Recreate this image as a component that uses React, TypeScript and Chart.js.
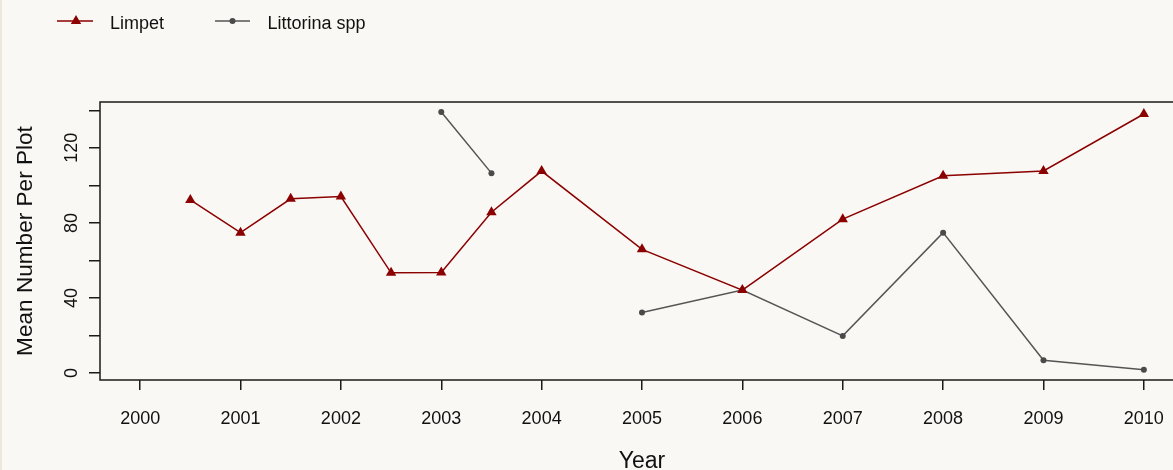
import React, { useEffect, useRef } from 'react';
import { Chart, registerables } from 'chart.js';

Chart.register(...registerables);

const limpetYears = [2000.5, 2001, 2001.5, 2002, 2002.5, 2003, 2003.5, 2004, 2005, 2006, 2007, 2008, 2009, 2010];
const limpetValues = [92.2, 74.8, 92.8, 94.0, 53.4, 53.6, 85.7, 107.6, 65.9, 44.2, 82.0, 105.1, 107.7, 138.0];
const littorinaYears = [2003, 2003.5, 2004, 2005, 2006, 2007, 2008, 2009, 2010];
const littorinaValues: (number | null)[] = [139.1, 106.5, null, 32.3, 44.2, 19.8, 74.8, 6.8, 1.8];
const xTickYears = [2000, 2001, 2002, 2003, 2004, 2005, 2006, 2007, 2008, 2009, 2010];
const yTickValues = [0, 20, 40, 60, 80, 100, 120, 140];
const yLabelValues = [0, 40, 80, 120];
const seriesNames = ['Limpet', 'Littorina spp'];
const xTitle = 'Year';
const yTitle = 'Mean Number Per Plot';

const RED = '#8b0000';
const GRAY = '#555555';
const GRAY_PT = '#4a4a4a';
const INK = '#111111';
const BG = '#f9f8f4';
const FONT = '"Liberation Sans", Arial, sans-serif';

export default function App() {
  const ref = useRef<HTMLCanvasElement | null>(null);

  useEffect(() => {
    document.body.style.margin = '0';
    document.body.style.overflow = 'hidden';
    const canvas = ref.current;
    if (!canvas) return;

    const decor = {
      id: 'decor',
      beforeDraw(chart: any) {
        const ctx = chart.ctx;
        ctx.save();
        ctx.fillStyle = BG;
        ctx.fillRect(0, 0, chart.width, chart.height);
        ctx.fillStyle = '#ece8dc';
        ctx.fillRect(0, 0, 2, chart.height);
        ctx.restore();
      },
      afterDraw(chart: any) {
        const ctx = chart.ctx;
        const a = chart.chartArea;
        const ys = chart.scales.y;
        ctx.save();
        // box
        ctx.strokeStyle = '#1a1a1a';
        ctx.lineWidth = 1.5;
        ctx.strokeRect(a.left, a.top, a.right - a.left, a.bottom - a.top);

        // y tick labels (rotated)
        ctx.fillStyle = INK;
        ctx.font = `18px ${FONT}`;
        ctx.textAlign = 'center';
        ctx.textBaseline = 'alphabetic';
        for (const v of yLabelValues) {
          const y = ys.getPixelForValue(v);
          ctx.save();
          ctx.translate(77, y);
          ctx.rotate(-Math.PI / 2);
          ctx.fillText(String(v), 0, 0);
          ctx.restore();
        }
        // y title
        ctx.font = `22.6px ${FONT}`;
        ctx.save();
        ctx.translate(31.5, (a.top + a.bottom) / 2);
        ctx.rotate(-Math.PI / 2);
        ctx.fillText(yTitle, 0, 0);
        ctx.restore();
        // x title
        ctx.font = `23px ${FONT}`;
        ctx.fillText(xTitle, (a.left + a.right) / 2, 468);

        // legend
        const ly = 21;
        ctx.lineWidth = 1.5;
        ctx.strokeStyle = RED;
        ctx.beginPath();
        ctx.moveTo(57, ly);
        ctx.lineTo(93, ly);
        ctx.stroke();
        ctx.fillStyle = RED;
        const r = 6;
        ctx.beginPath();
        ctx.moveTo(76, ly - r);
        ctx.lineTo(76 + r * Math.sin(Math.PI / 3), ly + r / 2);
        ctx.lineTo(76 - r * Math.sin(Math.PI / 3), ly + r / 2);
        ctx.closePath();
        ctx.fill();

        ctx.strokeStyle = GRAY;
        ctx.beginPath();
        ctx.moveTo(215, ly);
        ctx.lineTo(250, ly);
        ctx.stroke();
        ctx.fillStyle = GRAY_PT;
        ctx.beginPath();
        ctx.arc(232.5, ly, 3, 0, Math.PI * 2);
        ctx.fill();

        ctx.fillStyle = INK;
        ctx.font = `18px ${FONT}`;
        ctx.textAlign = 'left';
        ctx.fillText(seriesNames[0], 110, 28.5);
        ctx.fillText(seriesNames[1], 267.5, 28.5);
        ctx.restore();
      },
    };

    const chart = new Chart(canvas, {
      type: 'line',
      data: {
        datasets: [
          {
            label: seriesNames[0],
            data: limpetYears.map((x, i) => ({ x, y: limpetValues[i] })),
            borderColor: RED,
            backgroundColor: RED,
            borderWidth: 1.5,
            pointStyle: 'triangle',
            pointRadius: 6,
            pointBorderWidth: 0,
            pointBackgroundColor: RED,
            tension: 0,
          },
          {
            label: seriesNames[1],
            data: littorinaYears.map((x, i) => ({ x, y: littorinaValues[i] })),
            borderColor: GRAY,
            backgroundColor: GRAY_PT,
            borderWidth: 1.5,
            pointStyle: 'circle',
            pointRadius: 3,
            pointBorderWidth: 0,
            pointBackgroundColor: GRAY_PT,
            spanGaps: false,
            tension: 0,
          },
        ],
      },
      options: {
        animation: false,
        responsive: false,
        devicePixelRatio: 1,
        layout: { padding: { top: 102, right: 16, left: 0, bottom: 0 } },
        plugins: { legend: { display: false }, tooltip: { enabled: false }, title: { display: false } },
        scales: {
          x: {
            type: 'linear',
            min: 1999.6,
            max: 2010.4,
            afterBuildTicks: (s: any) => {
              s.ticks = xTickYears.map((v) => ({ value: v }));
            },
            afterFit: (s: any) => {
              s.height = 90;
            },
            grid: { drawOnChartArea: false, drawTicks: true, tickLength: 10, color: '#1a1a1a', lineWidth: 1.5 },
            border: { display: false },
            ticks: {
              padding: 18,
              color: INK,
              font: { family: FONT, size: 18 },
              maxRotation: 0,
              minRotation: 0,
              autoSkip: false,
              callback: (v: any) => String(v),
            },
          },
          y: {
            type: 'linear',
            min: -3.7,
            max: 144.4,
            afterBuildTicks: (s: any) => {
              s.ticks = yTickValues.map((v) => ({ value: v }));
            },
            afterFit: (s: any) => {
              s.width = 100;
            },
            grid: { drawOnChartArea: false, drawTicks: true, tickLength: 11, color: '#1a1a1a', lineWidth: 1.5 },
            border: { display: false },
            ticks: { display: true, callback: () => '', font: { family: FONT, size: 18 } },
          },
        },
      },
      plugins: [decor],
    } as any);

    return () => chart.destroy();
  }, []);

  return (
    <div style={{ width: 1173, height: 470, overflow: 'hidden', position: 'relative' }}>
      <canvas ref={ref} width={1200} height={470} style={{ display: 'block', width: 1200, height: 470 }} />
    </div>
  );
}
